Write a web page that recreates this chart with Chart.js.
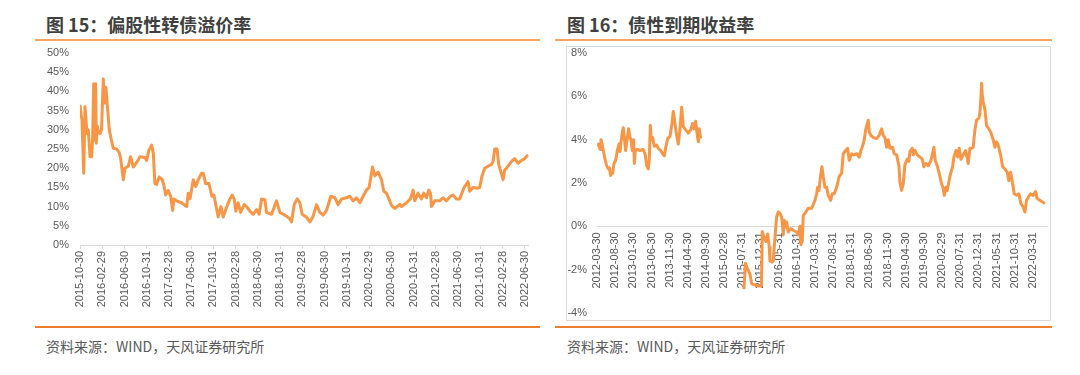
<!DOCTYPE html>
<html>
<head>
<meta charset="utf-8">
<script src="https://cdn.jsdelivr.net/npm/chart.js@4.4.0/dist/chart.umd.min.js"></script>
<style>
  body { margin: 0; width: 1080px; height: 375px; background: #fff; position: relative; overflow: hidden; font-family: "Noto Sans CJK SC", sans-serif; }
  .title { position: absolute; top: 12px; font-size: 18px; font-weight: bold; color: #404040; line-height: 24px; white-space: nowrap; }
  .rule-top { position: absolute; top: 39px; height: 2px; background: #F5A462; }
  .rule-bottom { position: absolute; top: 326px; height: 2px; background: #ED7D31; }
  .source { position: absolute; top: 336px; font-size: 14px; color: #595959; line-height: 20px; white-space: nowrap; }
  .box { position: absolute; left: 566px; top: 46px; width: 483px; height: 273px; border: 1px solid #D9D9D9; }
  canvas { position: absolute; }
</style>
</head>
<body>
<div class="title" style="left:46px">图 15：偏股性转债溢价率</div>
<div class="title" style="left:567px">图 16：债性到期收益率</div>
<div class="rule-top" style="left:35px;width:505px"></div>
<div class="rule-top" style="left:555px;width:497px"></div>
<div class="box"></div>
<canvas id="premiumChart" width="510" height="280" style="left:30px;top:44px"></canvas>
<canvas id="yieldChart" width="495" height="276" style="left:560px;top:44px"></canvas>
<div class="rule-bottom" style="left:35px;width:505px"></div>
<div class="rule-bottom" style="left:555px;width:497px"></div>
<div class="source" style="left:46px">资料来源：WIND，天风证券研究所</div>
<div class="source" style="left:567px">资料来源：WIND，天风证券研究所</div>

<script>
// --- Data ---
// 偏股性转债溢价率: months counted from 2015-10-30, values in %
const premiumTicks = ["2015-10-30", "2016-02-29", "2016-06-30", "2016-10-31", "2017-02-28", "2017-06-30", "2017-10-31",
    "2018-02-28", "2018-06-30", "2018-10-31", "2019-02-28", "2019-06-30", "2019-10-31", "2020-02-29", "2020-06-30",
    "2020-10-31", "2021-02-28", "2021-06-30", "2021-10-31", "2022-02-28", "2022-06-30"];

const premiumMonths = [
    0, 0.2, 0.36, 0.67, 0.9, 1.26, 1.5, 1.8, 2.1, 2.28,
    2.46, 2.7, 2.82, 2.93, 3.11, 3.33, 3.6, 3.87, 4.19, 4.44,
    4.67, 4.85, 5.27, 5.57, 5.99, 6.6, 7.07, 7.32, 7.79, 8.09,
    8.68, 9.11, 9.58, 10.19, 10.79, 11.69, 11.99, 12.4, 12.89, 13.18,
    13.48, 13.79, 14.26, 14.8, 15.1, 15.41, 15.87, 16.31, 16.67, 16.9,
    17.38, 18.28, 18.88, 19.18, 19.47, 19.78, 20.37, 20.8, 21.27, 21.88,
    22.17, 22.6, 23.19, 23.73, 24.09, 24.86, 25.35, 25.76, 26.37, 26.97,
    27.38, 27.74, 28.04, 28.46, 28.89, 29.54, 29.97, 30.56, 31.16, 31.77,
    32.23, 32.67, 33.26, 33.56, 34.46, 35.36, 35.96, 37.16, 37.75, 38.06,
    38.53, 39.07, 39.55, 39.96, 40.76, 41.35, 41.94, 42.55, 43.15, 43.74,
    44.35, 45.12, 45.84, 46.44, 47.05, 47.95, 48.54, 49.13, 49.74, 50.34,
    50.93, 51.54, 52.01, 52.62, 53.03, 53.63, 54.24, 54.65, 55.14, 56.04,
    56.63, 57.53, 57.83, 58.73, 59.45, 59.92, 60.22, 60.82, 61.43, 61.84,
    62.33, 62.74, 63.05, 63.23, 63.82, 64.72, 65.31, 65.92, 66.64, 67.11,
    67.72, 68.31, 69.03, 69.81, 70.11, 70.71, 71.6, 71.91, 72.32, 72.81,
    73.4, 74.01, 74.3, 74.61, 75.02, 75.33, 75.63, 76.1, 76.4, 76.71,
    77.61, 78.2, 78.79, 79.41, 80.0, 80.6];

const premiumValues = [
    36.5, 34, 32.5, 18.7, 36, 29, 30, 23, 23, 28,
    42, 27.3, 42, 26.5, 31, 29.5, 29, 30, 43.2, 37,
    41, 37.5, 30, 27.8, 25.2, 25, 24, 22.5, 17, 20,
    20.5, 23, 20.3, 21.5, 23, 22.8, 22, 24.7, 26, 24,
    16, 15.8, 17.7, 17, 15.5, 13, 14.2, 12.7, 9, 12,
    11.5, 11, 10.3, 10, 13.5, 12, 17, 15.2, 17, 18.7,
    18.7, 16, 16, 12.7, 13, 7.3, 10, 7.3, 9.8, 12,
    13, 12, 8.8, 11, 8.5, 10.5, 10, 8.8, 8, 9.2,
    8, 12, 11.8, 8.5, 8, 11.5, 8.5, 7.5, 6.8, 6,
    10.5, 12, 11, 8, 7.2, 6, 7.5, 10.5, 8.5, 7.8,
    9, 12.7, 12.3, 10.5, 12, 12.3, 12.7, 11.5, 12.3, 11,
    12.7, 14.3, 15, 20.3, 18, 19, 17, 14, 13.5, 10.3,
    9.5, 10.6, 10, 11, 12, 14.3, 11.5, 13.5, 12, 13.5,
    12.3, 14.3, 13.5, 10, 11.5, 11.5, 12.3, 11.5, 12.7, 13,
    12, 12, 14.8, 16.5, 14, 15, 14.8, 15, 18, 20,
    20.5, 21, 21.7, 25, 25, 21, 19.5, 17, 19.5, 20,
    21.7, 22.5, 21.3, 22, 22.5, 23.5];

// 债性到期收益率: months counted from 2012-03-30, values in %; gap between the two pieces
const yieldTicks = ["2012-03-30", "2012-08-30", "2013-01-30", "2013-06-30", "2013-11-30", "2014-04-30", "2014-09-30",
    "2015-02-28", "2015-07-31", "2015-12-31", "2016-05-31", "2016-10-31", "2017-03-31", "2017-08-31", "2018-01-31",
    "2018-06-30", "2018-11-30", "2019-04-30", "2019-09-30", "2020-02-29", "2020-07-31", "2020-12-31", "2021-05-31",
    "2021-10-31", "2022-03-31"];

const yieldMonthsA = [
    0, 0.46, 0.83, 1.1, 1.38, 1.74, 2.2, 2.66, 3.12, 3.39,
    3.76, 4.04, 4.31, 4.68, 5.14, 5.6, 6.06, 6.33, 6.61, 6.97,
    7.25, 7.52, 7.89, 8.26, 8.72, 9.08, 9.36, 9.72, 10.09, 10.28,
    10.55, 11.1, 11.84, 12.75, 13.3, 13.67, 14.13, 14.4, 14.68, 14.95,
    15.32, 15.78, 16.42, 16.88, 17.52, 18.08, 18.53, 18.99, 19.45, 20.09,
    20.64, 21.01, 21.38, 21.93, 22.39, 22.85, 23.31, 23.76, 24.41, 25.14,
    25.78, 26.33, 26.7, 27.16, 27.62, 27.89, 28.17, 28.54];

const yieldValuesA = [
    3.7, 3.8, 3.55, 4.0, 3.8, 3.5, 3.1, 2.8, 2.65, 2.7,
    2.35, 2.5, 2.45, 2.9, 3.05, 3.5, 3.8, 3.45, 3.9, 4.35,
    4.55, 4.1, 3.5, 4.0, 4.5, 4.1, 4.0, 3.5, 4.0, 2.9,
    3.5, 3.55, 3.5, 3.55, 3.3, 2.8, 2.65, 3.1, 4.65, 4.0,
    4.1, 3.7, 3.75, 3.6, 3.5, 3.35, 3.25, 3.7, 4.05, 4.15,
    4.75, 5.3, 4.85, 4.2, 3.8, 4.5, 5.5, 4.6, 4.45, 4.3,
    4.45, 4.75, 4.5, 4.85, 4.2, 3.9, 4.5, 4.05];

const yieldMonthsB = [
    40.46, 40.88, 41.56, 42.11, 42.58, 43.49, 44.32, 45.28, 45.5, 45.97,
    46.52, 46.98, 47.43, 47.62, 48.25, 48.53, 48.8, 49.08, 49.46, 49.9,
    50.37, 50.84, 51.11, 51.28, 51.55, 51.94, 52.22, 52.66, 53.32, 54.03,
    54.97, 55.41, 55.88, 56.15, 56.51, 56.78, 57.25, 58.16, 59.1, 60.01,
    60.47, 60.75, 61.11, 61.57, 61.93, 62.29, 62.76, 63.23, 63.67, 64.33,
    64.77, 65.32, 65.98, 66.69, 67.35, 67.8, 68.46, 69.01, 69.45, 70.11,
    70.74, 71.48, 72.2, 72.67, 73.3, 73.58, 73.96, 74.68, 74.95, 75.42,
    76.05, 76.99, 77.7, 78.36, 78.81, 79.27, 79.74, 80.18, 80.65, 81.39,
    81.83, 82.49, 83.13, 83.4, 83.87, 84.31, 84.78, 85.41, 85.88, 86.15,
    86.79, 87.06, 87.53, 88.16, 88.91, 89.54, 90.01, 90.56, 91.19, 91.85,
    92.4, 92.76, 93.12, 93.67, 94.22, 94.88, 95.32, 95.6, 96.06, 96.42,
    97.16, 97.63, 97.91, 98.27, 98.82, 99.28, 99.72, 100.19, 100.83, 101.49,
    102.2, 102.67, 103.14, 103.58, 104.05, 104.51, 105.15, 105.42, 105.7, 105.89,
    106.06, 106.33, 106.8, 107.27, 107.9, 108.37, 109.08, 109.55, 110.02, 110.46,
    111.12, 111.67, 112.3, 112.94, 113.4, 113.87, 114.31, 114.86, 115.52, 116.16,
    116.71, 117.34, 117.81, 118.27, 118.82, 119.37, 120.09, 120.75, 121.19, 121.94,
    122.57, 123.31];

const yieldValuesB = [
    -2.9, -1.7, -2.0, -2.2, -2.65, -2.7, -2.75, -2.75, -0.25, -0.5,
    -0.7, -0.35, -0.95, -1.6, -1.65, -1.6, -0.95, -0.35, 0.43, 0.66,
    0.6, 0.43, -0.03, -0.4, 0.28, -0.03, 0.2, -0.26, -0.1, -0.18,
    -0.26, -0.4, 0, -0.85, -0.7, 0.5, 0.6, 0.83, 0.83, 1.2,
    1.5, 1.8, 1.65, 2.35, 2.75, 2.3, 1.8, 1.8, 1.43, 1.2,
    1.5, 1.5, 1.8, 2.3, 2.45, 3.35, 3.5, 3.6, 3.05, 3.35,
    3.3, 3.35, 3.2, 3.5, 3.8, 4.0, 4.45, 4.9, 4.35, 4.2,
    4.1, 4.05, 4.2, 4.5, 4.2, 4.1, 3.65, 4.0, 3.6, 3.65,
    3.35, 3.3, 2.8, 2.05, 1.66, 1.95, 2.85, 3.1, 3.0, 3.45,
    3.6, 3.3, 3.5, 3.3, 3.2, 3.1, 2.75, 2.9, 2.8, 3.0,
    3.35, 3.65, 3.05, 2.8, 2.45, 1.95, 1.75, 1.43, 1.8, 1.65,
    2.3, 2.6, 2.75, 3.2, 3.5, 3.2, 3.6, 3.1, 3.3, 3.5,
    2.9, 3.6, 3.6, 3.65, 4.45, 4.9, 5.0, 5.2, 5.9, 6.6,
    6.1, 5.75, 5.4, 4.65, 4.5, 4.35, 4.0, 3.65, 3.9, 3.75,
    3.3, 2.75, 2.65, 2.5, 2.1, 2.5, 2.1, 1.5, 1.43, 1.5,
    1.05, 0.9, 0.66, 1.2, 1.35, 1.5, 1.43, 1.6, 1.28, 1.2,
    1.13, 1.05];

// --- Shared styling ---
const lineColor = "#F79646";
const tickFont = { family: "'Liberation Sans', Arial, sans-serif", size: 11 };
const tickColor = "#595959";

function toPoints(months, values) {
    return months.map((m, i) => ({ x: m, y: values[i] }));
}

function seriesStyle(data) {
    return { data: data, borderColor: lineColor, borderWidth: 3, pointRadius: 0, tension: 0, fill: false, borderJoinStyle: "round" };
}

const commonPlugins = { legend: { display: false }, tooltip: { enabled: false } };

// --- Chart 15 ---
new Chart(document.getElementById("premiumChart"), {
    type: "line",
    data: { datasets: [seriesStyle(toPoints(premiumMonths, premiumValues))] },
    options: {
        responsive: false,
        animation: false,
        layout: { padding: { top: 9, right: 11, left: 0, bottom: 0 } },
        plugins: commonPlugins,
        scales: {
            x: {
                type: "linear",
                min: 0,
                max: 80.7,
                afterBuildTicks: scale => { scale.ticks = premiumTicks.map((_, i) => ({ value: i * 4 })); },
                afterFit: scale => { scale.height = 79; },
                ticks: { autoSkip: false, minRotation: 90, maxRotation: 90, padding: 2, font: tickFont, color: tickColor,
                    callback: (v, i) => premiumTicks[i] },
                grid: { drawOnChartArea: false, drawTicks: true, tickLength: 4, color: "#D9D9D9" },
                border: { color: "#D9D9D9" }
            },
            y: {
                min: 0,
                max: 50,
                afterFit: scale => { scale.width = 50; },
                // label gap comes from the (hidden) tick length so the top padding stays small
                ticks: { stepSize: 5, padding: 0, font: tickFont, color: tickColor, callback: v => v + "%" },
                grid: { display: false, drawTicks: true, tickLength: 11 },
                border: { display: false }
            }
        }
    }
});

// --- Chart 16 ---
new Chart(document.getElementById("yieldChart"), {
    type: "line",
    data: {
        datasets: [
            seriesStyle(toPoints(yieldMonthsA, yieldValuesA)),
            seriesStyle(toPoints(yieldMonthsB, yieldValuesB))
        ]
    },
    options: {
        responsive: false,
        animation: false,
        layout: { padding: { top: 9, right: 8, left: 0, bottom: 7 } },
        plugins: commonPlugins,
        scales: {
            x: {
                type: "linear",
                position: { y: 0 },
                min: 0,
                max: 123.9,
                afterBuildTicks: scale => { scale.ticks = yieldTicks.map((_, i) => ({ value: i * 5 })); },
                ticks: { autoSkip: false, minRotation: 90, maxRotation: 90, padding: 6, font: tickFont, color: tickColor,
                    callback: (v, i) => yieldTicks[i] },
                grid: { drawOnChartArea: false, drawTicks: false },
                border: { color: "#D9D9D9" }
            },
            y: {
                min: -4,
                max: 8,
                afterFit: scale => { scale.width = 37; },
                ticks: { stepSize: 2, padding: 0, font: tickFont, color: tickColor, callback: v => v + "%" },
                grid: { display: false, drawTicks: true, tickLength: 10 },
                border: { display: false }
            }
        }
    }
});
</script>
</body>
</html>
